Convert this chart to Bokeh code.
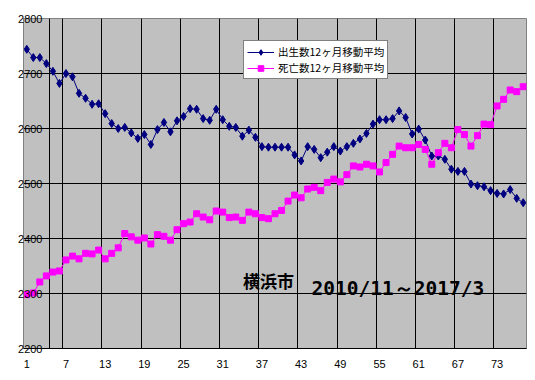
from bokeh.plotting import figure
from bokeh.models import Range1d, FixedTicker, Legend, LegendItem, Label
from bokeh.embed import file_html
from bokeh.resources import INLINE

months = list(range(1, 78))
births = [2744, 2729, 2729, 2718, 2704, 2682, 2700, 2694, 2664, 2655,
          2644, 2645, 2627, 2609, 2600, 2602, 2592, 2582, 2589, 2571,
          2598, 2611, 2594, 2614, 2622, 2636, 2635, 2618, 2615, 2635,
          2616, 2604, 2602, 2586, 2597, 2584, 2567, 2566, 2566, 2566,
          2566, 2552, 2541, 2567, 2562, 2547, 2557, 2567, 2559, 2567,
          2573, 2581, 2591, 2608, 2616, 2616, 2618, 2632, 2620, 2590,
          2599, 2579, 2550, 2550, 2544, 2526, 2522, 2522, 2499, 2496,
          2494, 2487, 2482, 2481, 2489, 2473, 2465]
deaths = [2298, 2301, 2321, 2332, 2339, 2341, 2361, 2368, 2363, 2373,
          2372, 2379, 2363, 2373, 2383, 2409, 2403, 2397, 2401, 2390,
          2407, 2404, 2397, 2416, 2427, 2430, 2445, 2439, 2434, 2450,
          2448, 2438, 2439, 2433, 2448, 2445, 2438, 2436, 2445, 2451,
          2468, 2479, 2474, 2490, 2493, 2487, 2502, 2508, 2503, 2516,
          2532, 2530, 2535, 2532, 2521, 2538, 2553, 2568, 2565, 2565,
          2571, 2562, 2535, 2556, 2573, 2565, 2598, 2589, 2568, 2587,
          2608, 2607, 2641, 2653, 2670, 2667, 2676]
x_ticks = months[::6]
y_ticks = [2200, 2300, 2400, 2500, 2600, 2700, 2800]
births_label = "出生数12ヶ月移動平均"
deaths_label = "死亡数12ヶ月移動平均"
title_city = "横浜市"
title_period = "2010/11～2017/3"

p = figure(width=527, height=372, output_backend="svg", toolbar_location=None,
           x_range=Range1d(0.5, 77.5), y_range=Range1d(2200, 2800),
           min_border_left=23, min_border_right=1, min_border_top=18,
           min_border_bottom=24)
p.background_fill_color = "#C0C0C0"
p.border_fill_color = "white"
p.outline_line_color = "#808080"

# axes
p.yaxis.ticker = FixedTicker(ticks=y_ticks)
p.yaxis.major_label_standoff = -19
p.yaxis.major_tick_out = 0
p.yaxis.major_tick_in = 0
p.yaxis.minor_tick_out = 0
p.yaxis.minor_tick_in = 0
p.yaxis.axis_line_color = "#808080"
p.yaxis.major_label_text_font = "Liberation Sans"
p.yaxis.major_label_text_font_size = "11px"
p.yaxis.major_label_text_color = "black"

p.xaxis.ticker = FixedTicker(ticks=x_ticks)
p.xaxis.major_label_standoff = 11
p.xaxis.major_tick_out = 0
p.xaxis.major_tick_in = 0
p.xaxis.minor_tick_out = 0
p.xaxis.minor_tick_in = 0
p.xaxis.axis_line_color = "black"
p.xaxis.major_label_text_font = "Liberation Sans"
p.xaxis.major_label_text_font_size = "11px"
p.xaxis.major_label_text_color = "black"

# grids
p.xgrid.ticker = FixedTicker(ticks=[4.5] + [t - 0.5 for t in x_ticks[1:]])
p.xgrid.grid_line_color = "black"
p.ygrid.grid_line_color = "black"

# series
l1 = p.line(months, births, line_color="#000080", line_width=1)
s1 = p.scatter(months, births, marker="diamond", size=8,
               fill_color="#000080", line_color="#000080")
l2 = p.line(months, deaths, line_color="#FF00FF", line_width=1)
s2 = p.scatter(months, deaths, marker="square", size=6,
               fill_color="#FF00FF", line_color="#FF00FF")

legend = Legend(items=[LegendItem(label=births_label, renderers=[l1, s1]),
                       LegendItem(label=deaths_label, renderers=[l2, s2])],
                location=(220, 269), margin=0, padding=3, spacing=1,
                glyph_width=27, glyph_height=14, label_height=14,
                label_standoff=4, border_line_color="black",
                border_line_width=1, background_fill_color="white",
                background_fill_alpha=1.0,
                label_text_font="Noto Sans CJK JP",
                label_text_font_size="10.5px", label_text_color="black")
p.add_layout(legend)

p.add_layout(Label(x=34.1, y=2324, text=title_city, text_font="Noto Sans CJK JP",
                   text_font_size="17px", text_font_style="bold",
                   text_color="black", text_baseline="middle"))
p.add_layout(Label(x=44.6, y=2309, text=title_period, text_font="DejaVu Sans Mono",
                   text_font_size="19.5px", text_font_style="bold",
                   text_color="black", text_baseline="alphabetic"))

open("out.html", "w").write(file_html(p, INLINE))
